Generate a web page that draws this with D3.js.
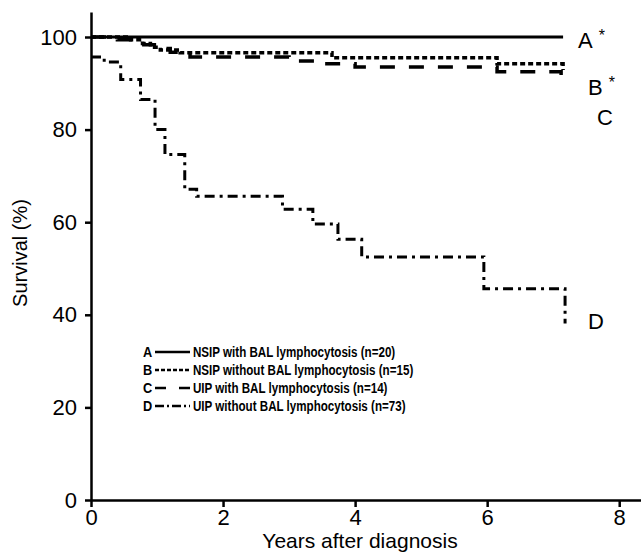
<!DOCTYPE html>
<html>
<head>
<meta charset="utf-8">
<script src="https://cdn.jsdelivr.net/npm/d3@7"></script>
<style>
  body { margin: 0; background: #fff; }
  svg { display: block; }
  text { fill: #000; }
</style>
</head>
<body>
<div id="chart"></div>
<script>
// survival curves (years, % surviving)
var aTime = [0, 7.15];
var aSurv = [100, 100];

var bTime = [0, 0.6, 0.78, 0.9, 1.05, 1.35, 3.65, 6.15, 7.15];
var bSurv = [100, 99.4, 98.6, 97.8, 97.2, 96.6, 95.5, 94.2, 92.9];

var cTime = [0, 0.4, 0.8, 1.0, 1.2, 1.5, 3.0, 3.45, 4.0, 6.15, 7.12];
var cSurv = [100, 99.4, 98.3, 97.5, 96.7, 95.7, 94.8, 94.2, 93.5, 92.5, 91.0];

var dTime = [0, 0.2, 0.45, 0.75, 0.97, 1.12, 1.42, 1.6, 2.9, 3.36, 3.74, 4.1, 5.95, 7.18];
var dSurv = [95.7, 94.6, 90.8, 86.5, 80.0, 74.6, 67.1, 65.6, 62.8, 59.6, 56.3, 52.5, 45.6, 38.1];

var labels = ["A", "B", "C", "D"];
var starred = [true, true, false, false];
var legendText = [
  "NSIP with BAL lymphocytosis (n=20)",
  "NSIP without BAL lymphocytosis (n=15)",
  "UIP with BAL lymphocytosis (n=14)",
  "UIP without BAL lymphocytosis (n=73)"
];

var xTicks = [0, 2, 4, 6, 8];
var yTicks = [0, 20, 40, 60, 80, 100];

var width = 641, height = 553;

var series = [
  {key: "A", time: aTime, surv: aSurv, dash: null, sw: 3},
  {key: "B", time: bTime, surv: bSurv, dash: "5,3", sw: 3.5},
  {key: "C", time: cTime, surv: cSurv, dash: "15,14", sw: 3.5},
  {key: "D", time: dTime, surv: dSurv, dash: "10,5,3,5", sw: 3}
];

var x = d3.scaleLinear().domain([0, 8.33]).range([91, 641]);
var y = d3.scaleLinear().domain([0, 105.4]).range([500, 12]);

var svg = d3.select("#chart")
  .append("svg")
  .attr("width", width)
  .attr("height", height)
  .style("font-family", "'Liberation Sans', Arial, sans-serif");

// axes
svg.append("g")
  .attr("transform", "translate(0," + y(0) + ")")
  .call(d3.axisBottom(x).tickValues(xTicks).tickSize(7).tickSizeOuter(0).tickPadding(2));

svg.append("g")
  .attr("transform", "translate(" + x(0) + ",0)")
  .call(d3.axisLeft(y).tickValues(yTicks).tickSize(6).tickSizeOuter(0).tickPadding(8));

svg.selectAll(".domain").attr("stroke", "#000").attr("stroke-width", 2.5);
svg.selectAll(".tick line").attr("stroke", "#000").attr("stroke-width", 2.5);
svg.selectAll(".tick text").attr("font-size", 22).attr("font-family", "'Liberation Sans', Arial, sans-serif");

svg.append("text")
  .attr("x", 360)
  .attr("y", 548)
  .attr("text-anchor", "middle")
  .attr("font-size", 21)
  .text("Years after diagnosis");

svg.append("text")
  .attr("transform", "translate(27,253) rotate(-90)")
  .attr("text-anchor", "middle")
  .attr("font-size", 20)
  .text("Survival (%)");

// curves
var line = d3.line()
  .x(function(d) { return x(d[0]); })
  .y(function(d) { return y(d[1]); })
  .curve(d3.curveStepAfter);

svg.selectAll(".curve")
  .data(series)
  .enter()
  .append("path")
  .attr("class", "curve")
  .attr("fill", "none")
  .attr("stroke", "#000")
  .attr("stroke-width", function(d) { return d.sw; })
  .attr("stroke-dasharray", function(d) { return d.dash; })
  .attr("d", function(d) { return line(d.time.map(function(t, i) { return [t, d.surv[i]]; })); });

// end labels
var labelX = [578, 588, 597, 588];
var labelY = [40, 87, 117, 321];
labels.forEach(function(k, i) {
  var t = svg.append("text")
    .attr("x", labelX[i])
    .attr("y", labelY[i] + 8)
    .attr("font-size", 22);
  t.append("tspan").text(k);
  if (starred[i]) {
    t.append("tspan").attr("dx", 6).attr("dy", -7).attr("font-size", 16).text("*");
  }
});

// legend
var rowY = d3.scaleLinear().domain([0, 3]).range([352, 406]);

var row = svg.selectAll(".row")
  .data(series)
  .enter()
  .append("g")
  .attr("class", "row")
  .attr("transform", function(d, i) { return "translate(0," + rowY(i) + ")"; });

row.append("g")
  .attr("transform", "translate(143,5) scale(0.85,1)")
  .append("text")
  .attr("font-size", 15)
  .attr("font-weight", "bold")
  .text(function(d) { return d.key; });

row.append("line")
  .attr("x1", 155).attr("x2", 190)
  .attr("y1", 0).attr("y2", 0)
  .attr("stroke", "#000")
  .attr("stroke-width", 2.5)
  .attr("stroke-dasharray", function(d) {
    if (d.key === "B") return "4,2";
    if (d.key === "C") return "11,13";
    if (d.key === "D") return "9,3,2,3";
    return null;
  });

// legend text is a condensed bold face in the original
row.append("g")
  .attr("transform", "translate(193,5) scale(0.8,1)")
  .append("text")
  .attr("font-size", 14.5)
  .attr("font-weight", "bold")
  .text(function(d, i) { return legendText[i]; });
</script>
</body>
</html>
